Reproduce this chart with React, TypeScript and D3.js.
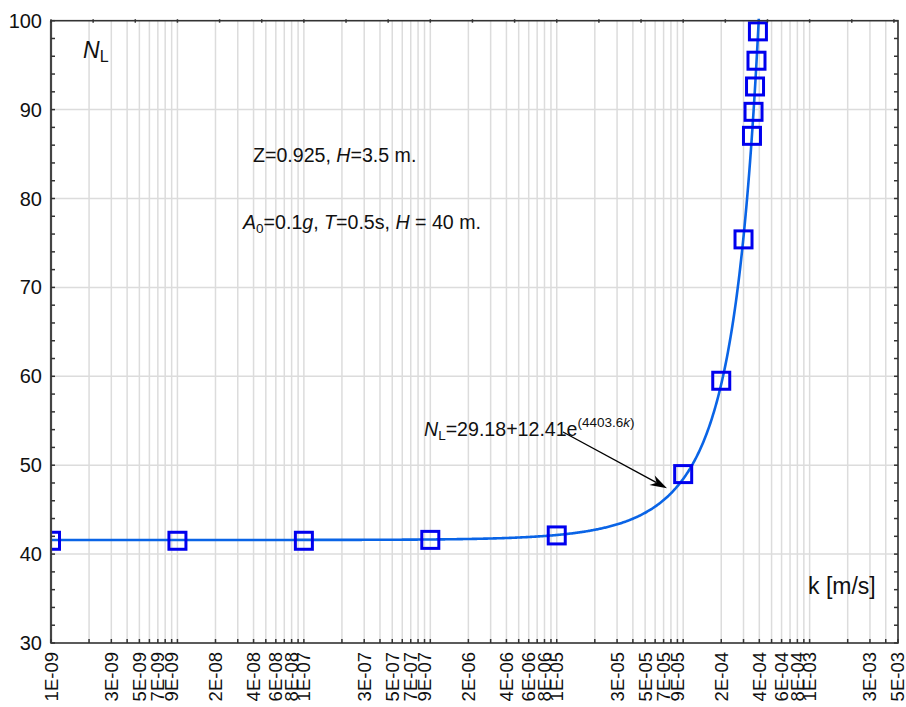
import React from 'react';
import * as d3 from 'd3';

const W = 906;
const H = 707;
const plot = { left: 51, right: 898, top: 20.7, bottom: 643 };

// Measured liquefaction cycles N_L against permeability k [m/s]
const permeability = [1e-9, 1e-8, 1e-7, 1e-6, 1e-5, 1e-4, 2e-4, 3e-4, 3.5e-4, 3.6e-4, 3.7e-4, 3.8e-4, 3.9e-4];
const cycles = [41.5, 41.5, 41.5, 41.6, 42.1, 49.0, 59.5, 75.4, 87.05, 89.75, 92.6, 95.5, 98.8];

// Fitted curve N_L = a + b * exp(c * k)
const fitCoefficients = [29.18, 12.41, 4403.6];

const yTicks = [30, 40, 50, 60, 70, 80, 90, 100];
const yMinorTicks = d3.range(30, 101, 2);
const decades = [-9, -8, -7, -6, -5, -4, -3];
const mantissas = [1, 2, 3, 4, 5, 6, 7, 8, 9];
const kDomain = [1e-9, 5e-3];

const FONT = 'Liberation Sans, Arial, sans-serif';
const NOTE = 19.6;
const SUB = 13.5;

export default function App() {
  const x = d3.scaleLog().domain(kDomain).range([plot.left, plot.right]);
  const y = d3.scaleLinear().domain([30, 100]).range([plot.bottom, plot.top]);

  // log ticks 1..9 per decade, every second one labelled
  const xTicks: { v: number; label: string | null }[] = [];
  let idx = 0;
  decades.forEach((d) => {
    mantissas.forEach((m) => {
      const v = m * Math.pow(10, d);
      if (v <= kDomain[1] * 1.0001) {
        const label = idx % 2 === 0 ? `${m}E-${String(-d).padStart(2, '0')}` : null;
        xTicks.push({ v, label });
        idx++;
      }
    });
  });

  // top frame ticks every third of a decade
  const topTicks = d3.range(0, 21).map((n) => Math.pow(10, -9 + n / 3));

  const [a, b, c] = fitCoefficients;
  const kMaxFit = Math.log((100.5 - a) / b) / c;
  const curvePts = d3
    .range(0, 801)
    .map((i) => Math.pow(10, Math.log10(kDomain[0]) + (i / 800) * (Math.log10(kMaxFit) - Math.log10(kDomain[0]))));
  const line = d3
    .line<number>()
    .x((k) => x(k))
    .y((k) => y(a + b * Math.exp(c * k)));

  const pts = permeability.map((k, i) => ({ k, n: cycles[i] }));

  // arrow from the equation label to the curve
  const arrowStart = { x: 563, y: 432 };
  const arrowTip = { x: x(7.45e-5), y: y(47.4) };
  const ang = Math.atan2(arrowTip.y - arrowStart.y, arrowTip.x - arrowStart.x);
  const headLen = 17;
  const headW = 5.5;
  const bx = arrowTip.x - headLen * Math.cos(ang);
  const by = arrowTip.y - headLen * Math.sin(ang);
  const nx = -Math.sin(ang);
  const ny = Math.cos(ang);
  const notchX = arrowTip.x - headLen * 0.7 * Math.cos(ang);
  const notchY = arrowTip.y - headLen * 0.7 * Math.sin(ang);
  const head = [
    [arrowTip.x, arrowTip.y],
    [bx + nx * headW, by + ny * headW],
    [notchX, notchY],
    [bx - nx * headW, by - ny * headW],
  ]
    .map((p) => p.join(','))
    .join(' ');

  const sq = 17;

  return (
    <svg
      width={W}
      height={H}
      style={{ position: 'absolute', left: 0, top: 0, background: '#fff' }}
      fontFamily={FONT}
    >
      <defs>
        <clipPath id="plotClip">
          <rect x={plot.left} y={plot.top - 2} width={plot.right - plot.left} height={plot.bottom - plot.top + 2} />
        </clipPath>
      </defs>
      <rect width={W} height={H} fill="#fff" />

      {/* grid */}
      {xTicks.map((t, i) => (
        <line key={'gx' + i} x1={x(t.v)} x2={x(t.v)} y1={plot.top} y2={plot.bottom} stroke="#dcdcdc" strokeWidth={1.5} />
      ))}
      {yTicks.slice(1, -1).map((v) => (
        <line key={'gy' + v} x1={plot.left} x2={plot.right} y1={y(v)} y2={y(v)} stroke="#dcdcdc" strokeWidth={1.5} />
      ))}

      {/* fitted curve and measured points */}
      <g clipPath="url(#plotClip)">
        <path d={line(curvePts) || ''} fill="none" stroke="#0a64e6" strokeWidth={2.6} />
        {pts.map((p, i) => (
          <rect
            key={'p' + i}
            x={x(p.k) - sq / 2}
            y={y(p.n) - sq / 2}
            width={sq}
            height={sq}
            fill="none"
            stroke="#0000ee"
            strokeWidth={3}
          />
        ))}
      </g>

      {/* frame */}
      <rect
        x={plot.left}
        y={plot.top}
        width={plot.right - plot.left}
        height={plot.bottom - plot.top}
        fill="none"
        stroke="#333"
        strokeWidth={1.6}
      />
      <line x1={plot.left} x2={plot.left} y1={plot.top} y2={plot.bottom} stroke="#444" strokeWidth={2.2} />

      {/* y ticks */}
      {yMinorTicks.map((v) => (
        <g key={'yt' + v}>
          <line x1={plot.left} x2={plot.left + 4} y1={y(v)} y2={y(v)} stroke="#333" strokeWidth={1.5} />
          <line x1={plot.right} x2={plot.right - 4} y1={y(v)} y2={y(v)} stroke="#333" strokeWidth={1.5} />
        </g>
      ))}
      {yTicks.map((v) => (
        <text key={'yl' + v} x={42} y={y(v)} fontSize={20} textAnchor="end" dominantBaseline="central" fill="#111">
          {v}
        </text>
      ))}

      {/* x ticks */}
      {xTicks.map((t, i) => (
        <line key={'xt' + i} x1={x(t.v)} x2={x(t.v)} y1={plot.bottom} y2={plot.bottom - 4} stroke="#333" strokeWidth={1.5} />
      ))}
      {topTicks.map((v, i) => (
        <line key={'tt' + i} x1={x(v)} x2={x(v)} y1={plot.top - 1.5} y2={plot.top + 2} stroke="#333" strokeWidth={1.5} />
      ))}
      {xTicks
        .filter((t) => t.label)
        .map((t, i) => (
          <text
            key={'xl' + i}
            transform={`translate(${Math.min(x(t.v), 897)},${plot.bottom + 9}) rotate(-90)`}
            fontSize={18.5}
            textAnchor="end"
            dominantBaseline="central"
            fill="#111"
          >
            {t.label}
          </text>
        ))}

      {/* axis titles and notes */}
      <text x={83} y={58} fontSize={23} fill="#111">
        <tspan fontStyle="italic">N</tspan>
        <tspan fontSize={16} dy={4}>L</tspan>
      </text>
      <text x={808} y={594} fontSize={23} fill="#111">
        k [m/s]
      </text>
      <text x={253} y={162} fontSize={NOTE} fill="#111">
        Z=0.925, <tspan fontStyle="italic">H</tspan>=3.5 m.
      </text>
      <text x={243} y={229} fontSize={NOTE} fill="#111">
        <tspan fontStyle="italic">A</tspan>
        <tspan fontSize={SUB} dy={4}>0</tspan>
        <tspan dy={-4}>=0.1</tspan>
        <tspan fontStyle="italic">g</tspan>, <tspan fontStyle="italic">T</tspan>=0.5s, <tspan fontStyle="italic">H</tspan> = 40 m.
      </text>
      <text x={424} y={436} fontSize={NOTE} fill="#111">
        <tspan fontStyle="italic">N</tspan>
        <tspan fontSize={SUB} dy={4}>L</tspan>
        <tspan dy={-4}>=29.18+12.41e</tspan>
        <tspan fontSize={SUB} dy={-9}>(4403.6</tspan>
        <tspan fontSize={SUB} fontStyle="italic">k</tspan>
        <tspan fontSize={SUB}>)</tspan>
      </text>

      {/* arrow */}
      <line x1={arrowStart.x} y1={arrowStart.y} x2={notchX} y2={notchY} stroke="#000" strokeWidth={1.3} />
      <polygon points={head} fill="#000" />
    </svg>
  );
}
